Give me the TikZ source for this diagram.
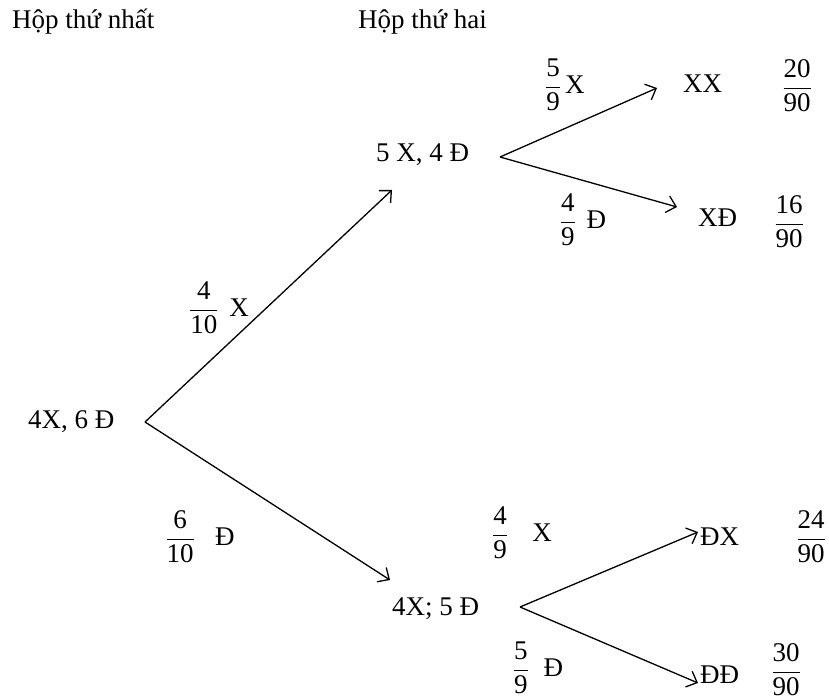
\documentclass[tikz,border=0pt]{standalone}
\usepackage{amsmath}
\usepackage{fontspec}
\setmainfont{Liberation Serif}
\usetikzlibrary{arrows.meta}
\tikzset{
  txt/.style={inner sep=0pt, font=\fontsize{27}{32}\selectfont},
  conn/.style={line width=1.3pt, -{Straight Barb[length=9pt,width=17pt,line width=1.3pt]}}
}
\newcommand{\fr}[2]{$\dfrac{\text{#1}}{\text{#2}}$}
\begin{document}
\begin{tikzpicture}[x=1pt,y=-1pt]
\useasboundingbox (0,0) rectangle (829,700);
% headers
\node[txt, anchor=base west] (h1) at (12,29) {Hộp thứ nhất};
\node[txt, anchor=base west] (h2) at (358,29) {Hộp thứ hai};
% states
\node[txt, anchor=base west] (n0) at (28,428) {4X, 6 Đ};
\node[txt, anchor=base west] (n1) at (376,162) {5 X, 4 Đ};
\node[txt, anchor=base west] (n2) at (392,615) {4X; 5 Đ};
\node[txt, anchor=base west] (o1) at (683,93) {XX};
\node[txt, anchor=base west] (o2) at (698,227) {XĐ};
\node[txt, anchor=base west] (o3) at (700,545) {ĐX};
\node[txt, anchor=base west] (o4) at (700,683) {ĐĐ};
% branch labels
\node[txt] (l01) at (219,308) {\fr{4}{10}\hspace{0.4em}X};
\node[txt] (l02) at (200,537) {\fr{6}{10}\hspace{0.75em}Đ};
\node[txt] (l11) at (565,85) {\fr{5}{9}\hspace{0.15em}X};
\node[txt] (l12) at (583,220) {\fr{4}{9}\hspace{0.4em}Đ};
\node[txt] (l21) at (522,533) {\fr{4}{9}\hspace{0.9em}X};
\node[txt] (l22) at (538,668) {\fr{5}{9}\hspace{0.55em}Đ};
% probabilities
\node[txt] (p1) at (797,86) {\fr{20}{90}};
\node[txt] (p2) at (789,222) {\fr{16}{90}};
\node[txt] (p3) at (811,537) {\fr{24}{90}};
\node[txt] (p4) at (786,670) {\fr{30}{90}};
% connector points
\coordinate (v0) at (145,422);
\coordinate (t01) at (392,190);
\coordinate (t02) at (390,580);
\coordinate (v1) at (500,157);
\coordinate (t11) at (657,88);
\coordinate (t12) at (677,207);
\coordinate (v2) at (520,607);
\coordinate (t21) at (698,532);
\coordinate (t22) at (698,683);
\draw[conn] (v0) -- (t01);
\draw[conn] (v0) -- (t02);
\draw[conn] (v1) -- (t11);
\draw[conn] (v1) -- (t12);
\draw[conn] (v2) -- (t21);
\draw[conn] (v2) -- (t22);
\end{tikzpicture}
\end{document}
